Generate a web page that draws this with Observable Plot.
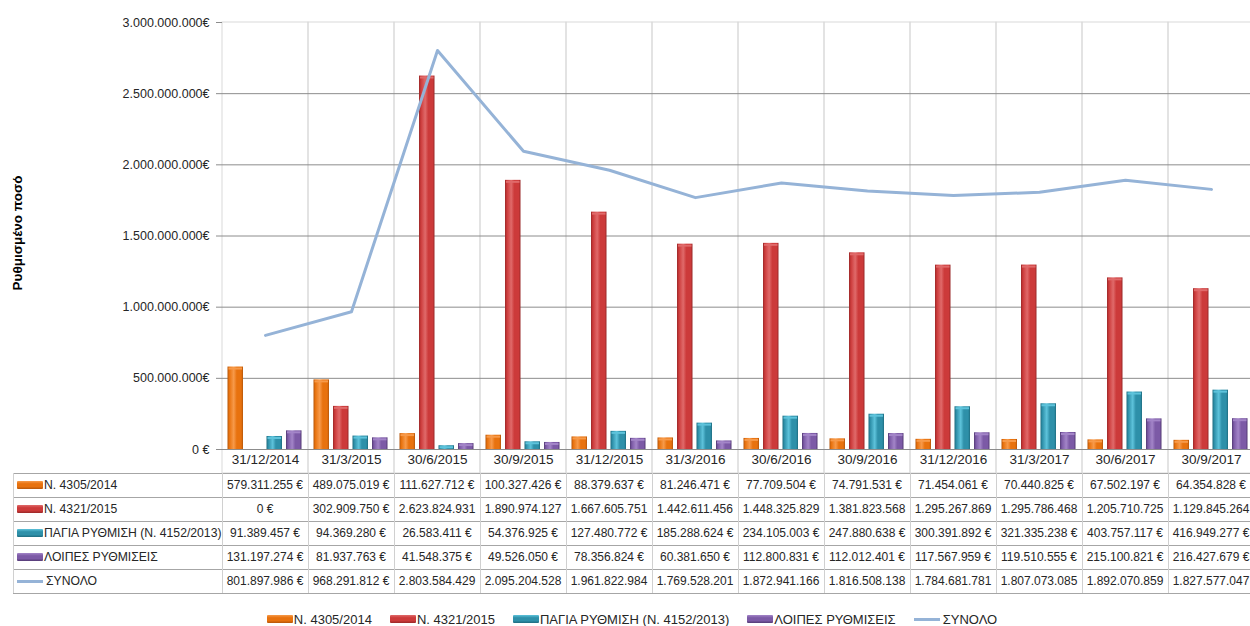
<!DOCTYPE html>
<html>
<head>
<meta charset="utf-8">
<script src="https://cdn.jsdelivr.net/npm/d3@7"></script>
<script src="https://cdn.jsdelivr.net/npm/@observablehq/plot@0.6"></script>
<style>
  html, body { margin: 0; padding: 0; background: #fff; }
  #wrap { position: relative; width: 1250px; height: 626px; overflow: hidden; background: #fff;
          font-family: 'Liberation Sans', Arial, sans-serif; color: #262626; }
  #chart { position: absolute; left: 0; top: 0; }
  .cell { position: absolute; height: 24px; line-height: 24px; font-size: 12px; text-align: center; white-space: nowrap; overflow: hidden; }
  .hline { position: absolute; height: 1px; background: #a6a6a6; }
  .vline { position: absolute; width: 1px; background: #d0d0d0; }
  .rowlab { position: absolute; height: 24px; line-height: 24px; font-size: 12.2px; white-space: nowrap; display: flex; align-items: center; }
  .sw { display: inline-block; width: 26px; height: 8px; margin-right: 1px; border-radius: 1px; }
  .swl { display: inline-block; width: 26px; height: 3px; margin-right: 3px; background: #95B3D7; }
  #legend { position: absolute; left: 0; width: 1264px; top: 607px; height: 24px; display: flex; justify-content: center; align-items: center; font-size: 13px; }
  #legend .item { display: flex; align-items: center; margin: 0 9px; }
</style>
</head>
<body>
<div id="wrap">
  <div id="chart"></div>
  <div id="table"></div>
  <div id="legend"></div>
</div>
<script>
const categories = ["31/12/2014","31/3/2015","30/6/2015","30/9/2015","31/12/2015","31/3/2016","30/6/2016","30/9/2016","31/12/2016","31/3/2017","30/6/2017","30/9/2017"];
const seriesNames = ["Ν. 4305/2014","Ν. 4321/2015","ΠΑΓΙΑ ΡΥΘΜΙΣΗ (Ν. 4152/2013)","ΛΟΙΠΕΣ ΡΥΘΜΙΣΕΙΣ"];
const lineName = "ΣΥΝΟΛΟ";
const n4305 = [579311255,489075019,111627712,100327426,88379637,81246471,77709504,74791531,71454061,70440825,67502197,64354828];
const n4321 = [0,302909750,2623824931,1890974127,1667605751,1442611456,1448325829,1381823568,1295267869,1295786468,1205710725,1129845264];
const pagia = [91389457,94369280,26583411,54376925,127480772,185288624,234105003,247880638,300391892,321335238,403757117,416949277];
const loipes = [131197274,81937763,41548375,49526050,78356824,60381650,112800831,112012401,117567959,119510555,215100821,216427679];
const synolo = [801897986,968291812,2803584429,2095204528,1961822984,1769528201,1872941166,1816508138,1784681781,1807073085,1892070859,1827577047];
const yTicks = [0,500000000,1000000000,1500000000,2000000000,2500000000,3000000000];
const yTickLabels = ["0 €","500.000.000€","1.000.000.000€","1.500.000.000€","2.000.000.000€","2.500.000.000€","3.000.000.000€"];
const yTitle = "Ρυθμισμένο ποσό";

const seriesValues = [n4305, n4321, pagia, loipes];
// colours: [dark edge, mid, light highlight]
const palette = [
  ["#B5560A", "#E8720E", "#F79A4A"],
  ["#9A2828", "#CC3A3A", "#E06A6A"],
  ["#1E6C80", "#2E90A9", "#5EC3DB"],
  ["#533A74", "#7C5AA6", "#A385C8"]
];

const FONT = "'Liberation Sans', Arial, sans-serif";
const W = 1250, ML = 222, MR = -4, MT = 22, H = 473, MB = 24;
const bw = (W - MR - ML) / categories.length;
const barW = 15.5, barOff = 5.5, barStep = 19.5;

const barMarks = [];
seriesValues.forEach((vals, i) => {
  const data = categories.map((c, j) => ({c, v: vals[j]}));
  const il = barOff + i * barStep;
  const ir = bw - il - barW;
  barMarks.push(Plot.barY(data, {x: "c", y: "v", fill: `url(#grad${i})`, insetLeft: il, insetRight: ir}));
  barMarks.push(Plot.tickY(data.filter(d => d.v > 0), {x: "c", y: "v", stroke: palette[i][2], strokeWidth: 2, dy: 1.5, insetLeft: il + 1, insetRight: ir + 1}));
});

const lineData = categories.map((c, j) => ({c, v: synolo[j]}));

const plot = Plot.plot({
  width: W, height: H,
  marginLeft: ML, marginRight: MR, marginTop: MT, marginBottom: MB,
  style: {fontFamily: FONT, fontSize: "13px", color: "#262626", background: "white", overflow: "visible"},
  x: {domain: categories, padding: 0},
  y: {domain: [0, 3000000000]},
  marks: [
    Plot.barY(categories, {x: d => d, y1: 0, y2: 3000000000, fill: "none", stroke: "#d9d9d9", insetBottom: -MB}),
    Plot.ruleY(yTicks.slice(0, -1), {stroke: "#8c8c8c"}),
    Plot.axisY({ticks: yTicks, tickFormat: d => yTickLabels[yTicks.indexOf(d)], tickSize: 6, tickPadding: 7, stroke: "#8c8c8c", fill: "#262626", label: null, fontSize: 12.5}),
    Plot.axisX({tickSize: 0, tickPadding: 5, label: null, fill: "#262626", fontSize: 13.5}),
    ...barMarks,
    Plot.lineY(lineData, {x: "c", y: "v", stroke: "#95B3D7", strokeWidth: 3}),
    Plot.text([yTitle], {frameAnchor: "left", textAnchor: "middle", dx: -205, dy: -3, rotate: -90, fontWeight: "bold", fontSize: 13.5, fill: "#000"})
  ]
});

// gradients
const defs = d3.select(plot).insert("defs", ":first-child");
palette.forEach((p, i) => {
  const g = defs.append("linearGradient").attr("id", `grad${i}`).attr("x1", 0).attr("x2", 1).attr("y1", 0).attr("y2", 0);
  [[0, p[0]], [0.12, p[1]], [0.4, p[2]], [0.6, p[1]], [0.88, p[1]], [1, p[0]]].forEach(([o, c]) =>
    g.append("stop").attr("offset", o).attr("stop-color", c));
});
document.getElementById("chart").appendChild(plot);

// table
const xs = plot.scale("x");
const table = document.getElementById("table");
const fmt = n => n.toString().replace(/\B(?=(\d{3})+(?!\d))/g, ".") + (n < 1e9 ? " €" : "");
const rowNames = [...seriesNames, lineName];
const rowVals = [...seriesValues, synolo];
const T0 = 473, RH = 24, TL = 13, TR = W - MR;
const add = (cls, style, html) => { const d = document.createElement("div"); d.className = cls; Object.assign(d.style, style); if (html != null) d.innerHTML = html; table.appendChild(d); return d; };
const swatch = r => r < 4
  ? `<span class="sw" style="background:linear-gradient(to bottom, ${palette[r][2]} 0%, ${palette[r][1]} 35%, ${palette[r][1]} 70%, ${palette[r][0]} 100%)"></span>`
  : `<span class="swl"></span>`;
rowNames.forEach((name, r) => {
  const top = T0 + r * RH;
  add("rowlab", {left: (TL + 4) + "px", top: top + "px"}, swatch(r) + name);
  categories.forEach((c, j) => {
    add("cell", {left: xs.apply(c) + "px", top: top + "px", width: bw + "px"}, fmt(rowVals[r][j]));
  });
});
for (let r = 0; r <= rowNames.length; r++) add("hline", {left: TL + "px", width: (TR - TL) + "px", top: (T0 + r * RH) + "px"});
add("vline", {left: TL + "px", top: T0 + "px", height: (RH * rowNames.length) + "px"});
categories.forEach(c => add("vline", {left: (xs.apply(c)) + "px", top: T0 + "px", height: (RH * rowNames.length) + "px"}));

// legend
const legend = document.getElementById("legend");
rowNames.forEach((name, r) => {
  const it = document.createElement("div");
  it.className = "item";
  it.innerHTML = swatch(r) + name;
  legend.appendChild(it);
});
</script>
</body>
</html>
